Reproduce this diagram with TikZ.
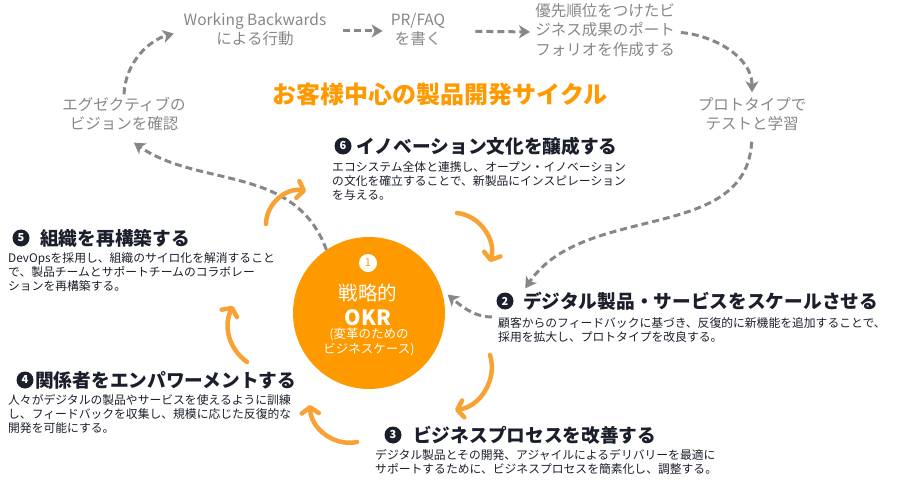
\documentclass[tikz,border=0pt]{standalone}
\usepackage{fontspec}
\setmainfont{Noto Sans CJK JP}
\usepackage{tikz}
\usetikzlibrary{arrows.meta}
\usetikzlibrary{positioning}

\definecolor{amzorange}{HTML}{FF9900}
\definecolor{brushorange}{HTML}{F8A236}
\definecolor{cyclegray}{HTML}{878787}
\definecolor{inkdark}{HTML}{1B1F2B}

\begin{document}
\begin{tikzpicture}[x=1pt,y=-1pt,
		cycletext/.style={text=cyclegray, inner sep=0pt, font=\fontsize{15.5}{19.5}\selectfont},
		cyclearrow/.style={draw=cyclegray, line width=3pt, dash pattern=on 7pt off 4pt, -{Stealth[length=11pt,width=13pt,inset=3pt]}},
		brush/.style={draw=brushorange, line width=4.5pt, line cap=round, line join=round, -{Straight Barb[length=6pt,width=17pt,round]}},
		numdot/.style={circle, fill=inkdark, text=white, minimum size=17pt, inner sep=0pt, font=\fontsize{11}{11}\selectfont\bfseries},
		steptitle/.style={anchor=west, text=inkdark, inner sep=0pt, font=\fontsize{18.7}{22}\selectfont\bfseries},
		stepbody/.style={anchor=north west, text=inkdark, inner sep=0pt, font=\fontsize{11.8}{13.5}\selectfont}]
		
		\useasboundingbox (0,0) rectangle (901,486);
		
		\node[cycletext] (vision) at (124,116){\begin{tabular}{@{}c@{}}エグゼクティブの\\ビジョンを確認\end{tabular}};
		\node[cycletext] (working) at (255,31){\begin{tabular}{@{}c@{}}Working Backwards\\による行動\end{tabular}};
		\node[cycletext] (prfaq) at (418,31){\begin{tabular}{@{}c@{}}PR/FAQ\\を書く\end{tabular}};
		\node[cycletext] (portfolio) at (605,32){\begin{tabular}{@{}l@{}}優先順位をつけたビ\\ジネス成果のポート\\フォリオを作成する\end{tabular}};
		\node[cycletext] (proto) at (752,116){\begin{tabular}{@{}c@{}}プロトタイプで\\テストと学習\end{tabular}};
		
		\node[text=amzorange, font=\fontsize{24}{28}\selectfont\bfseries] (title) at (440,94){お客様中心の製品開発サイクル};
		
		\node[circle, fill=amzorange, minimum size=152pt] (okr) at (369,313){};
		\node[circle, fill=white, text=amzorange, minimum size=18pt, inner sep=0pt, font=\fontsize{11}{11}\selectfont] (one) at (368,263){1};
		\node[text=white, font=\fontsize{19.5}{22}\selectfont] (strategic) at (368,293){戦略的};
		\node[text=white, font=\fontsize{21}{24}\selectfont\bfseries] (okrname) at (368,318){OKR};
		\node[text=white, inner sep=0pt, font=\fontsize{12.5}{15}\selectfont] (bizcase) at (369,343){\begin{tabular}{@{}c@{}}(変革のための\\ビジネスケース)\end{tabular}};
		
		\node[numdot] (d6) at (343,146){6};
		\node[steptitle] (t6) at (356,146){イノベーション文化を醸成する};
		\node[stepbody] (b6) at (332,161){\begin{tabular}{@{}l@{}}エコシステム全体と連携し、オープン・イノベーション\\の文化を確立することで、新製品にインスピレーション\\を与える。\end{tabular}};
		
		\node[numdot] (d5) at (21,238){5};
		\node[steptitle] (t5) at (40,238){組織を再構築する};
		\node[stepbody] (b5) at (8,252){\begin{tabular}{@{}l@{}}DevOpsを採用し、組織のサイロ化を解消すること\\で、製品チームとサポートチームのコラボレー\\ションを再構築する。\end{tabular}};
		
		\node[numdot] (d2) at (505,301){2};
		\node[steptitle] (t2) at (523,301){デジタル製品・サービスをスケールさせる};
		\node[stepbody] (b2) at (498,317){\begin{tabular}{@{}l@{}}顧客からのフィードバックに基づき、反復的に新機能を追加することで、\\採用を拡大し、プロトタイプを改良する。\end{tabular}};
		
		\node[numdot] (d4) at (25,380){4};
		\node[steptitle] (t4) at (35,380){関係者をエンパワーメントする};
		\node[stepbody] (b4) at (8,394){\begin{tabular}{@{}l@{}}人々がデジタルの製品やサービスを使えるように訓練\\し、フィードバックを収集し、規模に応じた反復的な\\開発を可能にする。\end{tabular}};
		
		\node[numdot] (d3) at (393,435){3};
		\node[steptitle] (t3) at (413,435){ビジネスプロセスを改善する};
		\node[stepbody] (b3) at (375,449){\begin{tabular}{@{}l@{}}デジタル製品とその開発、アジャイルによるデリバリーを最適に\\サポートするために、ビジネスプロセスを簡素化し、調整する。\end{tabular}};
		
		\draw[cyclearrow, shorten <=2pt, shorten >=10pt] (vision.north) to[out=88, in=195] (working.west);
		\draw[cyclearrow, shorten <=17pt, shorten >=8pt] (working.east) -- (prfaq.west);
		\draw[cyclearrow, shorten <=30pt, shorten >=5pt] (prfaq.east) -- (portfolio.west);
		\draw[cyclearrow, shorten <=6pt, shorten >=4pt] (portfolio.east) to[out=-5, in=90] (proto.north);
		\draw[cyclearrow, shorten <=6pt, shorten >=4pt] (proto.south) to[out=-93, in=56] (t2.north west);
		\draw[cyclearrow, shorten <=6pt, shorten >=8pt] (b2.north west) to[out=180, in=-40] (okr.18);
		\draw[cyclearrow, shorten >=12pt] (okr.124) to[out=110, in=-35] (vision.south);
		
		\draw[brush] (266,224) to[bend left=50] (306,191);
		\draw[brush] (457,213) to[bend left=50] (490,262);
		\draw[brush] (490,355) to[bend left=50] (455,410);
		\draw[brush] (357,442) to[bend left=50] (310,405);
		\draw[brush] (247,362) to[bend left=40] (233,306);
		
\end{tikzpicture}
\end{document}
